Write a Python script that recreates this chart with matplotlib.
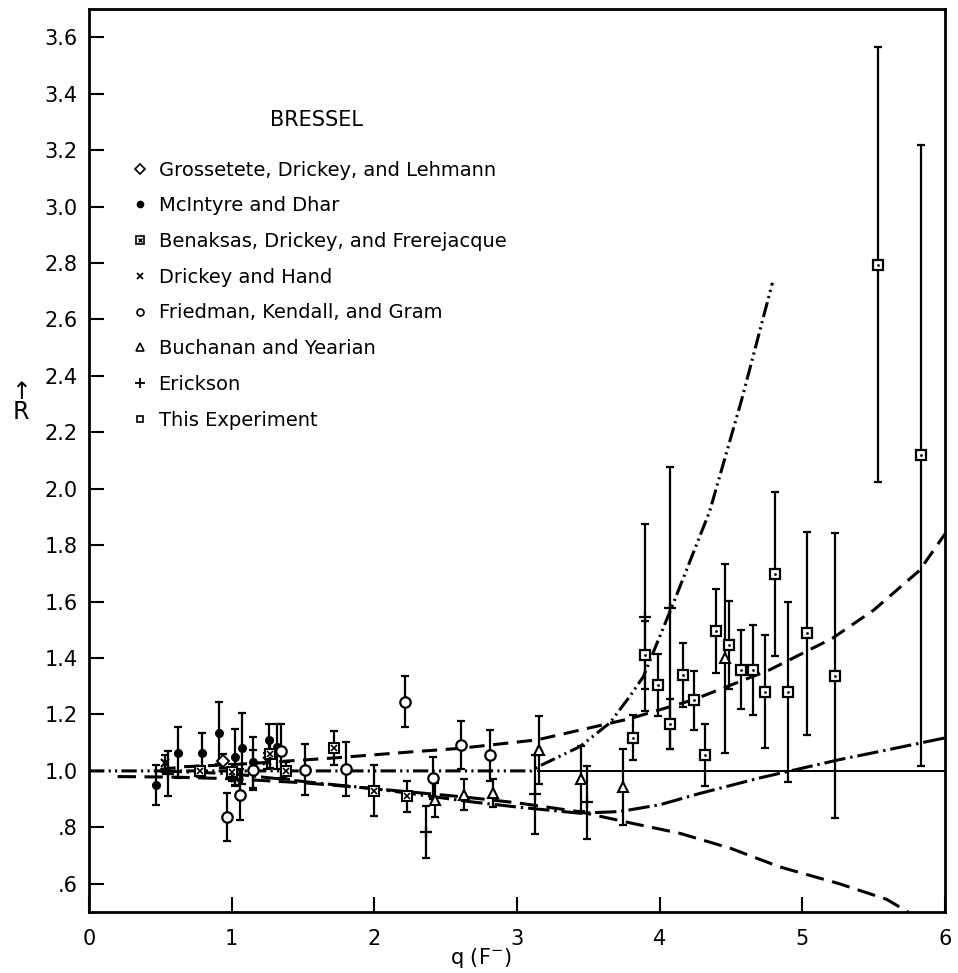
import matplotlib
matplotlib.use("Agg")
import matplotlib.pyplot as plt
from matplotlib.lines import Line2D
from matplotlib.legend_handler import HandlerTuple

# values: q in F^-1, R ratio, symmetric errors
grossetete_q = [0.94]
grossetete_r = [1.035]
grossetete_err = [0.025]

mcintyre_q = [0.47, 0.62, 0.79, 0.91, 1.02, 1.07, 1.15, 1.26, 1.32]
mcintyre_r = [0.95, 1.065, 1.065, 1.135, 1.05, 1.08, 1.03, 1.11, 1.085]
mcintyre_err = [0.07, 0.09, 0.07, 0.11, 0.10, 0.125, 0.09, 0.055, 0.08]

benaksas_q = [0.78, 1.0, 1.27, 1.38, 1.72, 2.0, 2.23]
benaksas_r = [0.998, 0.995, 1.06, 1.0, 1.08, 0.93, 0.91]
benaksas_err = [0.02, 0.03, 0.05, 0.03, 0.06, 0.09, 0.055]

drickey_q = [0.535, 1.02, 1.25]
drickey_r = [1.027, 0.975, 1.035]
drickey_err = [0.03, 0.03, 0.03]

friedman_q = [0.97, 1.06, 1.15, 1.345, 1.51, 1.80, 2.215, 2.41, 2.61, 2.81]
friedman_r = [0.835, 0.915, 1.003, 1.07, 1.004, 1.006, 1.245, 0.976, 1.092, 1.055]
friedman_err = [0.085, 0.09, 0.07, 0.095, 0.09, 0.095, 0.09, 0.075, 0.085, 0.09]

buchanan_q = [2.425, 2.63, 2.83, 3.155, 3.45, 3.74, 4.46]
buchanan_r = [0.897, 0.915, 0.921, 1.074, 0.972, 0.944, 1.40]
buchanan_err = [0.06, 0.055, 0.05, 0.12, 0.115, 0.135, 0.335]

erickson_q = [0.55, 2.36, 3.125, 3.49, 3.90, 4.07]
erickson_r = [0.99, 0.785, 0.917, 0.889, 1.544, 1.577]
erickson_err = [0.08, 0.092, 0.14, 0.13, 0.33, 0.50]

this_q = [3.81, 3.90, 3.99, 4.07, 4.16, 4.24, 4.32, 4.395, 4.485, 4.57,
          4.655, 4.74, 4.81, 4.90, 5.03, 5.23, 5.53, 5.83]
this_r = [1.118, 1.41, 1.305, 1.166, 1.34, 1.25, 1.055, 1.496, 1.447, 1.358,
          1.358, 1.28, 1.697, 1.28, 1.488, 1.337, 2.794, 2.118]
this_err = [0.08, 0.12, 0.11, 0.09, 0.115, 0.105, 0.11, 0.15, 0.155, 0.14,
            0.16, 0.2, 0.29, 0.32, 0.36, 0.505, 0.77, 1.1]

# theory curves
steep_q = [0.0, 1.0, 2.0, 3.1, 3.16, 3.44, 3.65, 3.79, 3.885, 4.1, 4.35, 4.574, 4.79]
steep_r = [1.0, 1.0, 1.0, 1.0, 1.018, 1.086, 1.17, 1.264, 1.334, 1.60, 1.92, 2.315, 2.73]

upper_q = [0.5, 0.67, 1.0, 1.69, 2.25, 2.6, 3.14, 3.79, 4.235, 4.77, 5.21, 5.5, 5.82, 6.0]
upper_r = [1.005, 1.015, 1.022, 1.045, 1.067, 1.08, 1.11, 1.185, 1.252, 1.358, 1.47, 1.57, 1.71, 1.84]

lower_q = [0.2, 0.6, 1.0, 1.5, 2.0, 2.6, 3.0, 3.44, 3.8, 4.14, 4.5, 4.84, 5.26, 5.59, 5.74]
lower_r = [0.98, 0.978, 0.972, 0.958, 0.937, 0.909, 0.887, 0.855, 0.815, 0.779, 0.725, 0.66, 0.60, 0.545, 0.50]

dashdot_q = [0.5, 1.0, 1.62, 2.0, 2.67, 3.0, 3.44, 3.72, 4.0, 4.28, 4.7, 5.26, 5.6, 6.0]
dashdot_r = [1.0, 0.99, 0.956, 0.937, 0.891, 0.872, 0.85, 0.856, 0.88, 0.92, 0.975, 1.04, 1.075, 1.117]

unity_q = [3.15, 6.0]
unity_r = [1.0, 1.0]

y_ticks = [0.6, 0.8, 1.0, 1.2, 1.4, 1.6, 1.8, 2.0, 2.2, 2.4, 2.6, 2.8, 3.0, 3.2, 3.4, 3.6]
y_labels = [".6", ".8", "1.0", "1.2", "1.4", "1.6", "1.8", "2.0", "2.2", "2.4",
            "2.6", "2.8", "3.0", "3.2", "3.4", "3.6"]
x_ticks = [0, 1, 2, 3, 4, 5, 6]

plt.rcParams["font.family"] = "DejaVu Sans"
plt.rcParams["font.size"] = 14

fig = plt.figure(figsize=(9.58, 9.73), dpi=100)
ax = fig.add_axes([0.093, 0.0627, 0.8935, 0.928])

lw = 2.2
ax.plot(steep_q, steep_r, color="black", lw=lw, dashes=[5, 1.4, 0.7, 1.4, 0.7, 1.4], zorder=2)
ax.plot(upper_q, upper_r, color="black", lw=lw, dashes=[5, 2.8], zorder=2)
ax.plot(lower_q, lower_r, color="black", lw=lw, dashes=[6, 2.8], zorder=2)
ax.plot(dashdot_q, dashdot_r, color="black", lw=lw, dashes=[7, 1.6, 0.8, 1.6], zorder=2)
ax.plot(unity_q, unity_r, color="black", lw=1.4, zorder=2)


def draw(q, r, err, **style):
    ax.errorbar(q, r, yerr=err, fmt="none", ecolor="black", elinewidth=1.6,
                capsize=3, capthick=1.6, zorder=3)
    ax.plot(q, r, linestyle="none", color="black", zorder=4, **style)


draw(grossetete_q, grossetete_r, grossetete_err, marker="D", ms=6, mfc="white", mew=1.4)
draw(mcintyre_q, mcintyre_r, mcintyre_err, marker="o", ms=5.5)
draw(benaksas_q, benaksas_r, benaksas_err, marker="s", ms=6.5, mfc="white", mew=1.5)
ax.plot(benaksas_q, benaksas_r, linestyle="none", color="black", marker="x", ms=4, mew=1.2, zorder=5)
draw(drickey_q, drickey_r, drickey_err, marker="x", ms=6, mew=1.6)
draw(friedman_q, friedman_r, friedman_err, marker="o", ms=7.5, mfc="white", mew=1.6)
draw(buchanan_q, buchanan_r, buchanan_err, marker="^", ms=7.5, mfc="white", mew=1.5)
draw(erickson_q, erickson_r, erickson_err, marker="+", ms=9, mew=1.6)
draw(this_q, this_r, this_err, marker="s", ms=7, mfc="white", mew=1.6)
ax.plot(this_q, this_r, linestyle="none", color="black", marker=".", ms=2, zorder=5)

ax.set_xlim(0, 6)
ax.set_ylim(0.5, 3.70)
ax.set_xticks(x_ticks)
ax.set_xticklabels([str(t) for t in x_ticks])
ax.set_yticks(y_ticks)
ax.set_yticklabels(y_labels)
ax.tick_params(direction="in", length=11, width=1.5, labelsize=15)
ax.tick_params(axis="x", pad=12)
ax.tick_params(axis="y", pad=8)
for spine in ax.spines.values():
    spine.set_linewidth(2)

ax.set_xlabel("q (F$^{-}$)", fontsize=15)
ax.xaxis.set_label_coords(0.457, -0.038)
ax.set_ylabel("↑\nR", rotation=0, fontsize=17, linespacing=0.8)
ax.yaxis.set_label_coords(-0.08, 0.54)

ax.text(0.266, 0.877, "BRESSEL", transform=ax.transAxes, ha="center", va="center", fontsize=15)

handles = [
    Line2D([], [], ls="none", color="black", marker="D", ms=5, mfc="white", mew=1.2),
    Line2D([], [], ls="none", color="black", marker="o", ms=4.5),
    (Line2D([], [], ls="none", color="black", marker="s", ms=6, mfc="white", mew=1.2),
     Line2D([], [], ls="none", color="black", marker="x", ms=3.5, mew=1)),
    Line2D([], [], ls="none", color="black", marker="x", ms=5, mew=1.3),
    Line2D([], [], ls="none", color="black", marker="o", ms=5, mfc="white", mew=1.2),
    Line2D([], [], ls="none", color="black", marker="^", ms=6, mfc="white", mew=1.2),
    Line2D([], [], ls="none", color="black", marker="+", ms=7, mew=1.3),
    Line2D([], [], ls="none", color="black", marker="s", ms=5, mfc="white", mew=1.2),
]
labels = [
    "Grossetete, Drickey, and Lehmann",
    "McIntyre and Dhar",
    "Benaksas, Drickey, and Frerejacque",
    "Drickey and Hand",
    "Friedman, Kendall, and Gram",
    "Buchanan and Yearian",
    "Erickson",
    "This Experiment",
]
ax.legend(handles, labels, loc="upper left", bbox_to_anchor=(0.038, 0.843),
          frameon=False, borderpad=0, labelspacing=0.86, handlelength=0.9,
          handletextpad=0.5, fontsize=14,
          handler_map={tuple: HandlerTuple(ndivide=1, pad=0)})

fig.savefig("out.png", dpi=100)
